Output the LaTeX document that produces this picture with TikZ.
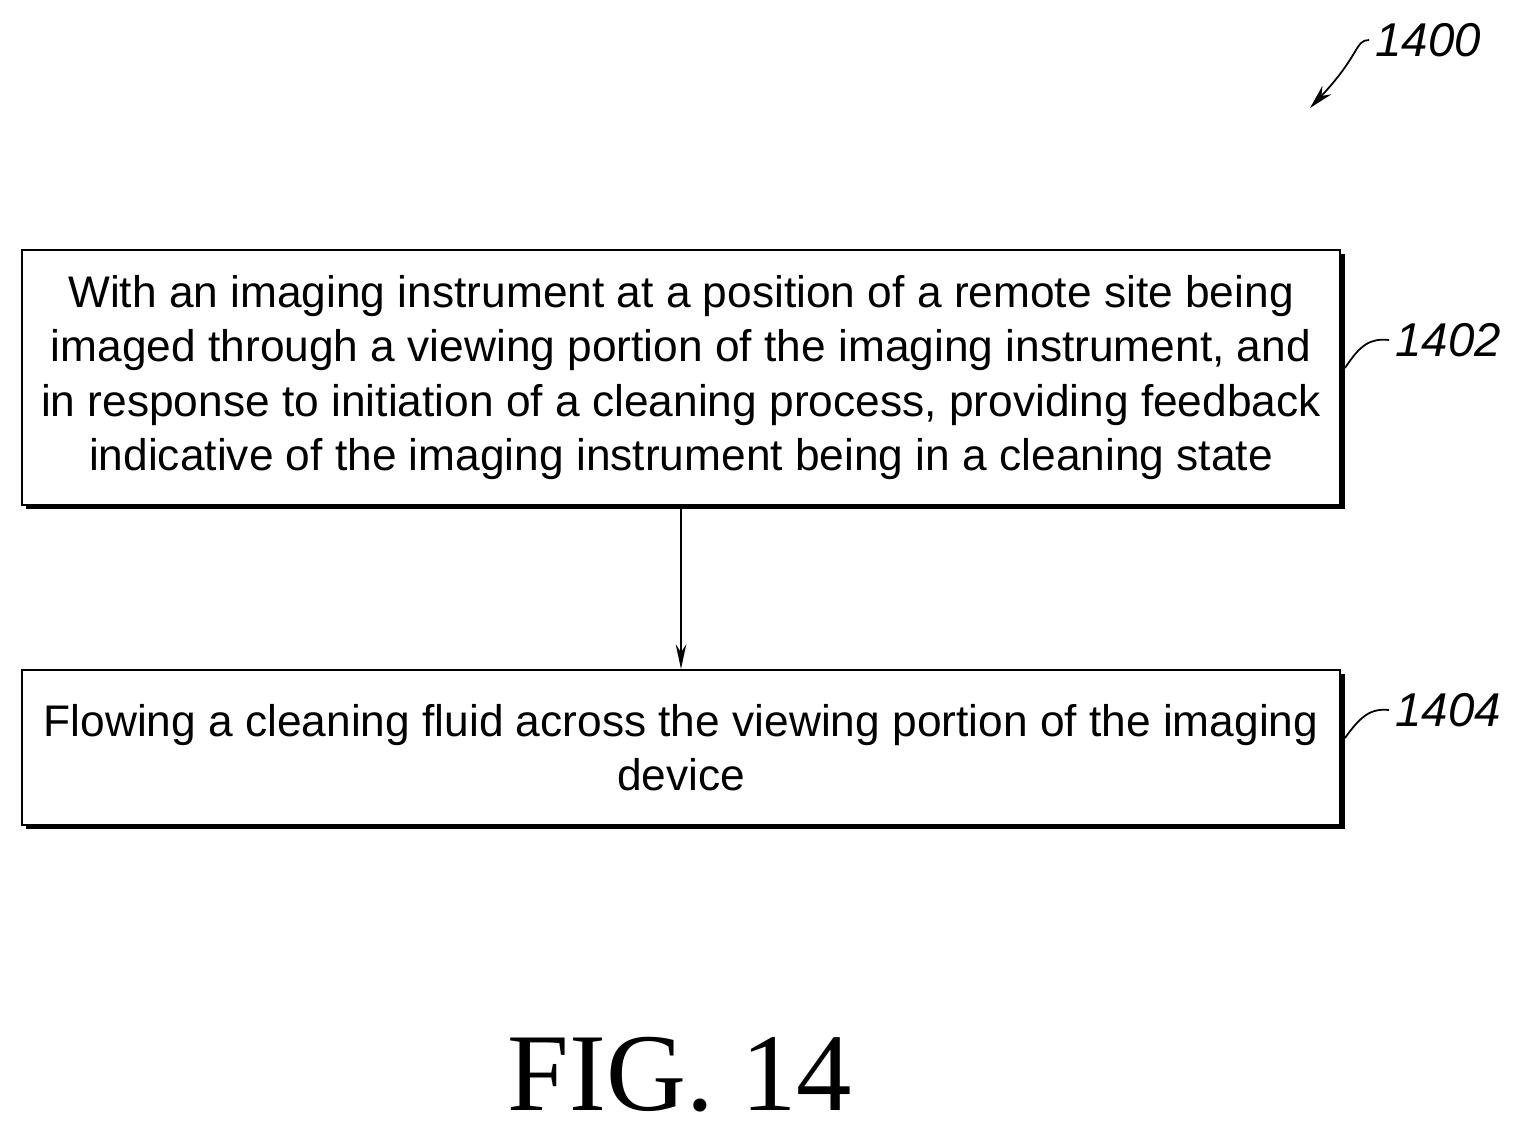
\documentclass[tikz,border=0pt]{standalone}
\usepackage{fontspec}
\setmainfont{Liberation Sans}
\newfontfamily\figfont{Liberation Serif}
\usetikzlibrary{arrows.meta}
\begin{document}
\begin{tikzpicture}[x=0.02cm,y=-0.02cm,
  box/.style={draw,line width=1.2pt,minimum width=1318*0.02cm,align=center,font=\fontsize{25.2}{31}\selectfont,inner sep=0pt},
  shadow/.style={fill=black},
  lbl/.style={font=\fontsize{27}{27}\selectfont\itshape},
  lead/.style={line width=1pt}]
\useasboundingbox (0,0) rectangle (1530,1135);
\fill[shadow] (26,254) rectangle (1345,509);
\node[box,fill=white,minimum height=255*0.02cm] (b1) at (681,377.5) {With an imaging instrument at a position of a remote site being\\imaged through a viewing portion of the imaging instrument, and\\in response to initiation of a cleaning process, providing feedback\\indicative of the imaging instrument being in a cleaning state};
\fill[shadow] (26,674) rectangle (1345,829);
\node[box,fill=white,minimum height=155*0.02cm] (b2) at (681,747.5) {Flowing a cleaning fluid across the viewing portion of the imaging\\device};
\draw[-{Stealth[length=14pt,width=6pt]},line width=1pt] (b1.south) -- (b2.north);
\node[lbl] (l1400) at (1428,40) {1400};
\node[lbl] (l1402) at (1448,340) {1402};
\node[lbl] (l1404) at (1448,710) {1404};
\coordinate (t0) at (1310,108);
\draw[lead,-{Stealth[length=14pt,width=7pt]}] (l1400.west) .. controls (1355,40) and (1360,55) .. (t0);
\draw[lead] (l1402.west) .. controls (1370,338) and (1360,345) .. (1345,368);
\draw[lead] (l1404.west) .. controls (1370,708) and (1360,717) .. (1345,738);
\node[font=\figfont\fontsize{63}{63}\selectfont] (fig) at (680,1075) {FIG. 14};
\end{tikzpicture}
\end{document}
